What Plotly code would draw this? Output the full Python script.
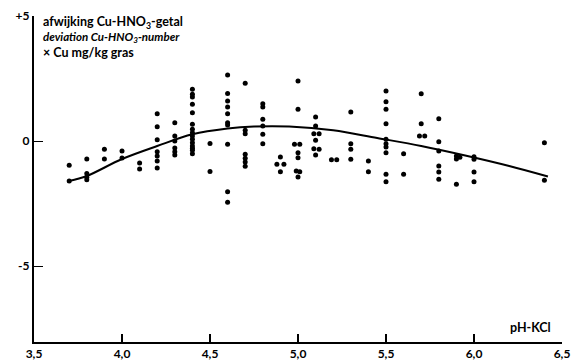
import plotly.graph_objects as go

# scatter data: pH-KCl and deviation
ph = (
    [3.7]*2 + [3.8]*4 + [3.9]*2 + [4.0]*2 + [4.1]*2 + [4.2]*7 + [4.3]*6 +
    [4.4]*15 + [4.5]*2 + [4.6]*10 + [4.7]*7 + [4.8]*6 +
    [4.88, 4.9, 4.92, 4.9] + [5.0, 5.0, 4.98, 5.01, 5.0, 5.0, 4.99, 5.01, 5.0] +
    [5.1, 5.1, 5.09, 5.12, 5.1, 5.09, 5.12, 5.1] + [5.19, 5.22] + [5.3]*4 +
    [5.4]*2 + [5.5]*10 + [5.6]*2 + [5.7, 5.7, 5.69, 5.72] + [5.8]*6 +
    [5.9, 5.92, 5.9, 5.9] + [6.0]*4 + [6.4]*2
)
dev = (
    [-0.97, -1.6] +
    [-0.72, -1.3, -1.45, -1.55] +
    [-0.33, -0.72] +
    [-0.4, -0.68] +
    [-0.88, -1.12] +
    [1.09, 0.57, 0.05, -0.43, -0.6, -0.8, -1.08] +
    [0.73, 0.2, 0.0, -0.28, -0.43, -0.56] +
    [2.07, 1.87, 1.76, 1.47, 1.13, 0.67, 0.47, 0.33, 0.2, 0.07, -0.07, -0.2, -0.29, -0.37, -0.51] +
    [-0.1, -1.22] +
    [2.64, 1.9, 1.6, 1.36, 1.09, 0.73, 0.64, -0.13, -2.03, -2.45] +
    [2.31, 0.43, 0.29, -0.53, -0.69, -0.84, -1.01] +
    [1.49, 1.36, 0.87, 0.6, 0.27, -0.11] +
    [-0.93, -0.64, -0.93, -1.23] +
    [2.4, 1.27, -0.13, -0.13, -0.47, -0.67, -1.2, -1.23, -1.44] +
    [0.96, 0.6, 0.29, 0.29, 0.03, -0.31, -0.33, -0.56] +
    [-0.75, -0.75] +
    [1.16, -0.11, -0.33, -0.73] +
    [-0.8, -1.23] +
    [2.0, 1.57, 1.27, 0.69, 0.07, -0.11, -0.24, -0.47, -1.33, -1.63] +
    [-0.51, -1.33] +
    [1.89, 0.69, 0.2, 0.2] +
    [0.89, -0.03, -0.4, -1.0, -1.24, -1.53] +
    [-0.6, -0.65, -0.72, -1.73] +
    [-0.63, -0.73, -1.24, -1.63] +
    [-0.07, -1.57]
)

# fitted curve
curve_x = [3.7, 3.8, 4.0, 4.2, 4.4, 4.6, 4.75, 4.95, 5.2, 5.45, 5.7, 5.95, 6.2, 6.42]
curve_y = [-1.6, -1.4, -0.72, -0.2, 0.27, 0.5, 0.58, 0.58, 0.43, 0.12, -0.2, -0.58, -1.0, -1.42]

x_ticks = [3.5, 4.0, 4.5, 5.0, 5.5, 6.0, 6.5]
x_labels = ["3,5", "4,0", "4,5", "5,0", "5,5", "6,0", "6,5"]
y_ticks = [5, 0, -5]
y_labels = ["+5", "0", "-5"]

FONT = "Lato"
TICKFONT = dict(family=FONT, size=12, color="black", weight="bold")

fig = go.Figure()
fig.add_trace(go.Scatter(x=curve_x, y=curve_y, mode="lines",
                         line=dict(color="black", width=2, shape="spline"),
                         hoverinfo="skip"))
fig.add_trace(go.Scatter(x=ph, y=dev, mode="markers",
                         marker=dict(color="black", size=5)))

fig.update_layout(
    template="none",
    width=574, height=361,
    margin=dict(l=34, r=12, t=16, b=19),
    paper_bgcolor="white", plot_bgcolor="white",
    showlegend=False,
    font=dict(family=FONT, color="black", size=12),
)
fig.update_xaxes(range=[3.5, 6.5], tickmode="array", tickvals=x_ticks, ticktext=x_labels,
                 ticks="inside", ticklen=8, tickwidth=1.5, tickcolor="black",
                 showline=True, linecolor="black", linewidth=1.5,
                 showgrid=False, zeroline=False, automargin=False,
                 tickfont=TICKFONT, ticklabelstandoff=0)
fig.update_yaxes(range=[-8.04, 5], tickmode="array", tickvals=y_ticks, ticktext=y_labels,
                 ticks="inside", ticklen=9, tickwidth=1.2, tickcolor="black",
                 showline=True, linecolor="black", linewidth=2.2,
                 showgrid=False, zeroline=False, automargin=False,
                 tickfont=TICKFONT)

fig.add_annotation(x=3.54, y=4.75, xref="x", yref="y", xanchor="left", yanchor="middle",
                   text="<b>afwijking Cu-HNO<sub>3</sub>-getal</b>", showarrow=False,
                   font=dict(family=FONT, size=12.5, color="black"))
fig.add_annotation(x=3.54, y=4.15, xref="x", yref="y", xanchor="left", yanchor="middle",
                   text="<b><i>deviation Cu-HNO<sub>3</sub>-number</i></b>", showarrow=False,
                   font=dict(family=FONT, size=11.5, color="black"))
fig.add_annotation(x=3.54, y=3.55, xref="x", yref="y", xanchor="left", yanchor="middle",
                   text="<b>× Cu mg/kg gras</b>", showarrow=False,
                   font=dict(family=FONT, size=12.5, color="black"))
fig.add_annotation(x=6.32, y=-7.45, xref="x", yref="y", xanchor="center", yanchor="middle",
                   text="<b>pH-KCl</b>", showarrow=False,
                   font=dict(family=FONT, size=12.5, color="black"))

fig.write_html("out.html")
